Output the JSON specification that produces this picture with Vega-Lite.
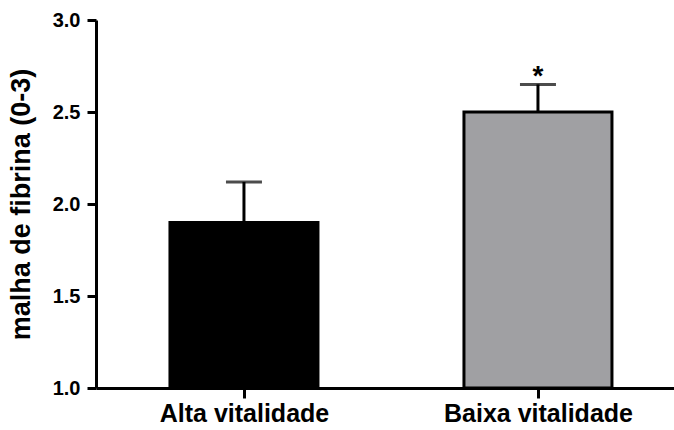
{
  "$schema": "https://vega.github.io/schema/vega-lite/v6.json",
  "width": 578,
  "height": 368,
  "autosize": {"type": "none"},
  "padding": {"left": 96, "top": 20, "right": 0, "bottom": 42},
  "background": "white",
  "config": {
    "view": {"stroke": null},
    "font": "Liberation Sans",
    "axis": {
      "domainColor": "black",
      "domainWidth": 3,
      "tickColor": "black",
      "tickWidth": 3,
      "labelColor": "black",
      "labelFontWeight": "bold",
      "labelLimit": 400,
      "titleColor": "black",
      "titleFontWeight": "bold",
      "grid": false
    }
  },
  "data": {
    "values": [
      {"grupo": "Alta vitalidade", "media": 1.90, "superior": 2.12, "sig": ""},
      {"grupo": "Baixa vitalidade", "media": 2.50, "superior": 2.65, "sig": "*"}
    ]
  },
  "encoding": {
    "x": {
      "field": "grupo",
      "type": "nominal",
      "sort": null,
      "scale": {"type": "point", "padding": 0.483, "align": 0.521},
      "axis": {
        "title": null,
        "labelAngle": 0,
        "labelFontSize": 25,
        "labelPadding": 3,
        "tickSize": 10
      }
    }
  },
  "layer": [
    {
      "mark": {"type": "bar", "width": 148, "stroke": "black", "strokeWidth": 3},
      "encoding": {
        "y": {
          "field": "media",
          "type": "quantitative",
          "scale": {"domain": [1, 3], "nice": false, "zero": false},
          "axis": {
            "title": "malha de fibrina (0-3)",
            "titleFontSize": 27,
            "titlePadding": 17,
            "values": [1, 1.5, 2, 2.5, 3],
            "format": ".1f",
            "labelFontSize": 20,
            "labelPadding": 7,
            "labelFlush": false,
            "tickSize": 9
          }
        },
        "y2": {"datum": 1},
        "fill": {
          "field": "grupo",
          "type": "nominal",
          "scale": {"domain": ["Alta vitalidade", "Baixa vitalidade"], "range": ["#000000", "#a0a0a3"]},
          "legend": null
        }
      }
    },
    {
      "mark": {"type": "rule", "color": "black", "strokeWidth": 3},
      "encoding": {
        "y": {"field": "media", "type": "quantitative"},
        "y2": {"field": "superior"}
      }
    },
    {
      "mark": {"type": "tick", "color": "black", "thickness": 3, "size": 36},
      "encoding": {
        "y": {"field": "superior", "type": "quantitative"}
      }
    },
    {
      "mark": {"type": "text", "fontSize": 28, "fontWeight": "bold", "baseline": "alphabetic", "dy": 1, "color": "black"},
      "encoding": {
        "y": {"field": "superior", "type": "quantitative"},
        "text": {"field": "sig"}
      }
    }
  ]
}
